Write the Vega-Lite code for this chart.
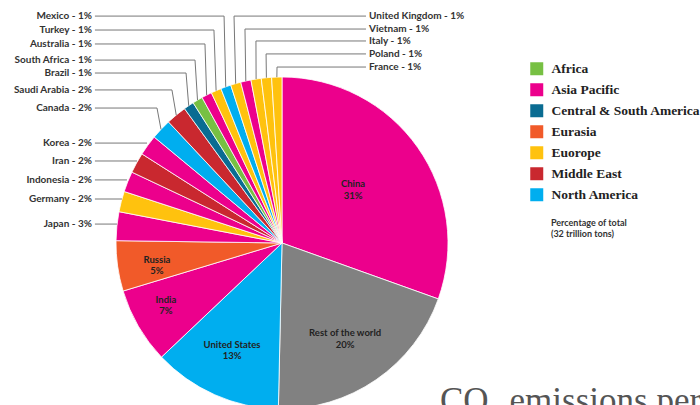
{
  "$schema": "https://vega.github.io/schema/vega-lite/v6.json",
  "width": 564,
  "height": 486,
  "autosize": "none",
  "padding": {"left": 0, "top": 0, "right": 136, "bottom": 0},
  "background": "white",
  "title": {
    "text": "CO₂ emissions per country",
    "orient": "bottom",
    "anchor": "start",
    "frame": "group",
    "dx": 440,
    "offset": -74,
    "baseline": "alphabetic",
    "font": "Liberation Serif",
    "fontSize": 35,
    "fontWeight": "normal",
    "color": "#555555"
  },
  "config": {"view": {"stroke": null}},
  "datasets": {
    "shares": [
      {"rank": 1, "country": "China", "region": "Asia Pacific", "share": 30.5},
      {"rank": 2, "country": "Rest of the world", "region": "Rest of world", "share": 19.9},
      {"rank": 3, "country": "United States", "region": "North America", "share": 12.6},
      {"rank": 4, "country": "India", "region": "Asia Pacific", "share": 7.4},
      {"rank": 5, "country": "Russia", "region": "Eurasia", "share": 4.9},
      {"rank": 6, "country": "Japan", "region": "Asia Pacific", "share": 2.8},
      {"rank": 7, "country": "Germany", "region": "Euorope", "share": 2},
      {"rank": 8, "country": "Indonesia", "region": "Asia Pacific", "share": 2},
      {"rank": 9, "country": "Iran", "region": "Middle East", "share": 2},
      {"rank": 10, "country": "Korea", "region": "Asia Pacific", "share": 2},
      {"rank": 11, "country": "Canada", "region": "North America", "share": 2},
      {"rank": 12, "country": "Saudi Arabia", "region": "Middle East", "share": 2},
      {"rank": 13, "country": "Brazil", "region": "Central & South America", "share": 1},
      {"rank": 14, "country": "South Africa", "region": "Africa", "share": 1},
      {"rank": 15, "country": "Australia", "region": "Asia Pacific", "share": 1},
      {"rank": 16, "country": "Turkey", "region": "Euorope", "share": 1},
      {"rank": 17, "country": "Mexico", "region": "North America", "share": 1},
      {"rank": 18, "country": "United Kingdom", "region": "Euorope", "share": 1},
      {"rank": 19, "country": "Vietnam", "region": "Asia Pacific", "share": 1},
      {"rank": 20, "country": "Italy", "region": "Euorope", "share": 1},
      {"rank": 21, "country": "Poland", "region": "Euorope", "share": 1},
      {"rank": 22, "country": "France", "region": "Euorope", "share": 1}
    ],
    "callouts": [
      {"label": "Mexico - 1%", "side": "left", "lx": -112.7, "ly": 136.7, "bx": -34.9, "ax": -33.9, "ay": 94.1},
      {"label": "Turkey - 1%", "side": "left", "lx": -112.7, "ly": 128.3, "bx": -41.0, "ax": -39.7, "ay": 91.8},
      {"label": "Australia - 1%", "side": "left", "lx": -112.7, "ly": 119.9, "bx": -46.4, "ax": -45.4, "ay": 89.1},
      {"label": "South Africa - 1%", "side": "left", "lx": -112.7, "ly": 110.2, "bx": -52.4, "ax": -50.9, "ay": 86.1},
      {"label": "Brazil - 1%", "side": "left", "lx": -112.7, "ly": 102.4, "bx": -57.8, "ax": -56.2, "ay": 82.7},
      {"label": "Saudi Arabia - 2%", "side": "left", "lx": -112.7, "ly": 92.2, "bx": -66.3, "ax": -63.7, "ay": 77.0},
      {"label": "Canada - 2%", "side": "left", "lx": -112.7, "ly": 81.3, "bx": -75.3, "ax": -72.9, "ay": 68.5},
      {"label": "Korea - 2%", "side": "left", "lx": -112.7, "ly": 60.2, "bx": -81.3, "ax": -81.3, "ay": 60.2},
      {"label": "Iran - 2%", "side": "left", "lx": -112.7, "ly": 49.4, "bx": -87.3, "ax": -87.3, "ay": 49.4},
      {"label": "Indonesia - 2%", "side": "left", "lx": -112.7, "ly": 38.0, "bx": -93.4, "ax": -93.4, "ay": 38.0},
      {"label": "Germany - 2%", "side": "left", "lx": -112.7, "ly": 26.5, "bx": -96.4, "ax": -96.4, "ay": 26.5},
      {"label": "Japan - 3%", "side": "left", "lx": -112.7, "ly": 11.4, "bx": -99.4, "ax": -99.4, "ay": 11.4},
      {"label": "United Kingdom - 1%", "side": "right", "lx": 50.6, "ly": 136.7, "bx": -28.9, "ax": -27.9, "ay": 96.0},
      {"label": "Vietnam - 1%", "side": "right", "lx": 50.6, "ly": 128.9, "bx": -22.3, "ax": -21.8, "ay": 97.6},
      {"label": "Italy - 1%", "side": "right", "lx": 50.6, "ly": 121.7, "bx": -15.7, "ax": -15.6, "ay": 98.8},
      {"label": "Poland - 1%", "side": "right", "lx": 50.6, "ly": 113.9, "bx": -9.6, "ax": -9.4, "ay": 99.6},
      {"label": "France - 1%", "side": "right", "lx": 50.6, "ly": 106.0, "bx": -3.0, "ax": -3.1, "ay": 99.9}
    ],
    "inner": [
      {"label": "China\n31%", "x": 42.8, "y": 35.5},
      {"label": "Rest of the world\n20%", "x": 38.0, "y": -54.5},
      {"label": "United States\n13%", "x": -30.1, "y": -61.4},
      {"label": "India\n7%", "x": -69.9, "y": -34.3},
      {"label": "Russia\n5%", "x": -75.3, "y": -10.2}
    ],
    "notes": [
      {"note": "Percentage of total\n(32 trillion tons)", "x": 162.0, "y": 14.5}
    ]
  },
  "layer": [
    {
      "data": {"name": "shares"},
      "mark": {"type": "arc", "outerRadius": 166, "stroke": "white", "strokeWidth": 0.8},
      "encoding": {
        "theta": {"field": "share", "type": "quantitative", "stack": true},
        "order": {"field": "rank", "type": "quantitative"},
        "color": {
          "field": "region",
          "type": "nominal",
          "scale": {
            "domain": ["Africa", "Asia Pacific", "Central & South America", "Eurasia", "Euorope", "Middle East", "North America", "Rest of world"],
            "range": ["#77c043", "#ec008c", "#0a6c92", "#f15a29", "#ffc20e", "#c9282f", "#00aeef", "#818181"]
          },
          "legend": {
            "values": ["Africa", "Asia Pacific", "Central & South America", "Eurasia", "Euorope", "Middle East", "North America"],
            "orient": "none",
            "legendX": 530,
            "legendY": 62,
            "padding": 0,
            "title": null,
            "symbolType": "square",
            "symbolSize": 169,
            "symbolStrokeWidth": 0,
            "labelFont": "Liberation Serif",
            "labelFontSize": 13.5,
            "labelFontWeight": "bold",
            "labelColor": "#222222",
            "labelOffset": 8,
            "rowPadding": 6,
            "labelLimit": 300
          }
        }
      }
    },
    {
      "data": {"name": "callouts"},
      "mark": {"type": "rule", "color": "#777777", "strokeWidth": 1},
      "encoding": {
        "x": {"field": "lx", "type": "quantitative", "scale": {"domain": [-169.88, 169.88], "nice": false, "zero": false}, "axis": null},
        "x2": {"field": "bx"},
        "y": {"field": "ly", "type": "quantitative", "scale": {"domain": [-146.39, 146.39], "nice": false, "zero": false}, "axis": null}
      }
    },
    {
      "data": {"name": "callouts"},
      "mark": {"type": "rule", "color": "#777777", "strokeWidth": 1},
      "encoding": {
        "x": {"field": "bx", "type": "quantitative", "scale": {"domain": [-169.88, 169.88], "nice": false, "zero": false}, "axis": null},
        "x2": {"field": "ax"},
        "y": {"field": "ly", "type": "quantitative", "scale": {"domain": [-146.39, 146.39], "nice": false, "zero": false}, "axis": null},
        "y2": {"field": "ay"}
      }
    },
    {
      "data": {"name": "callouts"},
      "transform": [{"filter": "datum.side == 'left'"}],
      "mark": {"type": "text", "align": "right", "baseline": "middle", "dx": -3, "font": "Lato", "fontSize": 10, "fontWeight": "bold", "color": "#333333"},
      "encoding": {
        "x": {"field": "lx", "type": "quantitative", "scale": {"domain": [-169.88, 169.88], "nice": false, "zero": false}, "axis": null},
        "y": {"field": "ly", "type": "quantitative", "scale": {"domain": [-146.39, 146.39], "nice": false, "zero": false}, "axis": null},
        "text": {"field": "label", "type": "nominal"}
      }
    },
    {
      "data": {"name": "callouts"},
      "transform": [{"filter": "datum.side == 'right'"}],
      "mark": {"type": "text", "align": "left", "baseline": "middle", "dx": 3, "font": "Lato", "fontSize": 10, "fontWeight": "bold", "color": "#333333"},
      "encoding": {
        "x": {"field": "lx", "type": "quantitative", "scale": {"domain": [-169.88, 169.88], "nice": false, "zero": false}, "axis": null},
        "y": {"field": "ly", "type": "quantitative", "scale": {"domain": [-146.39, 146.39], "nice": false, "zero": false}, "axis": null},
        "text": {"field": "label", "type": "nominal"}
      }
    },
    {
      "data": {"name": "inner"},
      "mark": {"type": "text", "align": "center", "baseline": "middle", "lineBreak": "\n", "lineHeight": 11.5, "font": "Lato", "fontSize": 9.5, "fontWeight": "bold", "color": "#222222"},
      "encoding": {
        "x": {"field": "x", "type": "quantitative", "scale": {"domain": [-169.88, 169.88], "nice": false, "zero": false}, "axis": null},
        "y": {"field": "y", "type": "quantitative", "scale": {"domain": [-146.39, 146.39], "nice": false, "zero": false}, "axis": null},
        "text": {"field": "label", "type": "nominal"}
      }
    },
    {
      "data": {"name": "notes"},
      "mark": {"type": "text", "align": "left", "baseline": "top", "lineBreak": "\n", "lineHeight": 11, "font": "Lato", "fontSize": 9, "fontWeight": "bold", "color": "#333333"},
      "encoding": {
        "x": {"field": "x", "type": "quantitative", "scale": {"domain": [-169.88, 169.88], "nice": false, "zero": false}, "axis": null},
        "y": {"field": "y", "type": "quantitative", "scale": {"domain": [-146.39, 146.39], "nice": false, "zero": false}, "axis": null},
        "text": {"field": "note", "type": "nominal"}
      }
    }
  ]
}
